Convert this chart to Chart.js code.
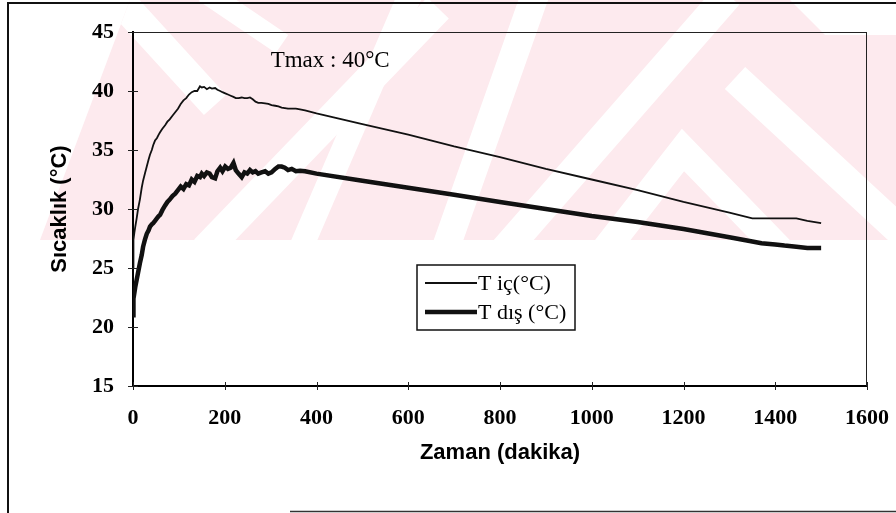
<!DOCTYPE html>
<html>
<head>
<meta charset="utf-8">
<script src="https://cdn.jsdelivr.net/npm/chart.js@4.4.1/dist/chart.umd.min.js"></script>
<style>
  html, body { margin: 0; padding: 0; background: #fff; }
  #wrap { width: 896px; height: 513px; }
</style>
</head>
<body>
<div id="wrap"><canvas id="tempChart" width="896" height="513"></canvas></div>
<script>
// time in minutes
const timeMin = [0, 1, 3, 5, 8, 11, 15, 19, 22, 26, 30, 34, 37, 41, 44, 48, 52, 56, 59, 64,
  70, 75, 80, 86, 92, 98, 104, 110, 116, 122, 128, 134, 140, 146, 150, 155, 161, 167, 172, 179,
  184, 190, 195, 201, 207, 213, 219, 224, 230, 237, 243, 249, 255, 261, 267, 273, 280, 288, 295, 302,
  310, 317, 324, 331, 338, 346, 355, 364, 375, 400, 500, 600, 700, 800, 900, 1000, 1100, 1200, 1300, 1350,
  1370, 1400, 1420, 1446, 1470, 1500];

// inside temperature (thin line)
const tIc = [25.0, 27.4, 28.0, 28.5, 29.2, 30.0, 30.8, 31.8, 32.4, 33.0, 33.6, 34.2, 34.6, 35.0, 35.4, 35.8, 36.0, 36.3, 36.5, 36.8,
  37.1, 37.4, 37.6, 37.9, 38.2, 38.5, 38.9, 39.2, 39.4, 39.7, 39.9, 40.0, 40.0, 40.4, 40.3, 40.35, 40.15, 40.3, 40.2, 40.25,
  40.1, 40.0, 39.9, 39.8, 39.7, 39.6, 39.5, 39.4, 39.4, 39.45, 39.4, 39.4, 39.45, 39.3, 39.1, 39.0, 39.0, 38.95, 38.9, 38.8,
  38.75, 38.7, 38.6, 38.55, 38.5, 38.5, 38.5, 38.45, 38.35, 38.1, 37.2, 36.3, 35.3, 34.4, 33.4, 32.5, 31.6, 30.6, 29.7, 29.2,
  29.2, 29.2, 29.2, 29.2, 29.0, 28.8];

// outside temperature (thick line)
const tDis = [21.0, 22.4, 22.9, 23.4, 24.0, 24.6, 25.4, 26.1, 26.8, 27.4, 27.9, 28.2, 28.5, 28.7, 28.8, 29.0, 29.2, 29.4, 29.5, 29.9,
  30.3, 30.6, 30.8, 31.1, 31.3, 31.6, 31.9, 31.7, 32.1, 32.0, 32.5, 32.3, 32.8, 32.7, 33.0, 32.8, 33.1, 33.0, 32.7, 32.6,
  33.2, 33.5, 33.2, 33.6, 33.4, 33.5, 33.9, 33.3, 33.0, 32.7, 33.1, 33.0, 33.3, 33.1, 33.2, 33.0, 33.1, 33.2, 33.0, 33.1,
  33.4, 33.6, 33.6, 33.5, 33.3, 33.4, 33.2, 33.25, 33.2, 33.0, 32.4, 31.8, 31.2, 30.6, 30.0, 29.4, 28.9, 28.3, 27.6, 27.25,
  27.1, 27.0, 26.9, 26.8, 26.7, 26.7];

const xTickValues = [0, 200, 400, 600, 800, 1000, 1200, 1400, 1600];
const yTickValues = [15, 20, 25, 30, 35, 40, 45];
const seriesLabels = ['T iç(°C)', 'T dış (°C)'];
const xTitle = 'Zaman (dakika)';
const yTitle = 'Sıcaklık (°C)';
const noteText = 'Tmax : 40°C';
const notePos = { x: 300, y: 42 };

const serif = '"Liberation Serif", "Times New Roman", serif';
const sans = '"Liberation Sans", Arial, sans-serif';

// pink thesis watermark behind the upper part of the page
const watermark = {
  id: 'watermark',
  beforeDraw(chart) {
    const c = chart.ctx;
    c.save();
    c.fillStyle = '#fff';
    c.fillRect(0, 0, chart.width, chart.height);
    c.beginPath();
    c.moveTo(130, 0); c.lineTo(790, 0); c.lineTo(825, 35); c.lineTo(896, 35);
    c.lineTo(896, 240); c.lineTo(40, 240); c.closePath();
    c.fillStyle = '#fdeaee';
    c.fill();
    c.clip();
    c.strokeStyle = '#fff';
    c.lineCap = 'butt';
    c.lineJoin = 'miter';
    const bands = [
      [[110, -10], [215, 105], 30],
      [[205, -8], [282, 44], 22],
      [[205, 250], [438, 8], 30],
      [[300, 250], [410, -5], 24],
      [[445, 250], [535, -5], 28],
      [[505, 250], [728, -5], 30],
      [[735, 78], [910, 240], 30],
      [[605, 250], [683, 150], [780, 250], 28]
    ];
    bands.forEach(b => {
      const w = b[b.length - 1];
      const pts = b.slice(0, -1);
      c.lineWidth = w;
      c.beginPath();
      pts.forEach((p, i) => i ? c.lineTo(p[0], p[1]) : c.moveTo(p[0], p[1]));
      c.stroke();
    });
    c.restore();
  }
};

// page frame, plot box, crossing tick marks, note and legend
const extras = {
  id: 'extras',
  afterDraw(chart) {
    const c = chart.ctx;
    const { left, right, top, bottom } = chart.chartArea;
    const xs = chart.scales.x, ys = chart.scales.y;
    c.save();
    c.strokeStyle = '#111';
    c.lineWidth = 2;
    c.beginPath();
    c.moveTo(8, 3); c.lineTo(8, 513);
    c.moveTo(7, 3); c.lineTo(896, 3);
    c.stroke();
    c.lineWidth = 1.5;
    c.strokeStyle = '#333';
    c.beginPath();
    c.moveTo(290, 511.5); c.lineTo(896, 511.5);
    c.stroke();

    c.lineWidth = 1;
    c.strokeStyle = '#222';
    c.beginPath();
    c.moveTo(left, top + 0.5); c.lineTo(right, top + 0.5);
    c.moveTo(right - 0.5, top); c.lineTo(right - 0.5, bottom);
    c.stroke();

    c.beginPath();
    yTickValues.forEach(v => {
      const py = Math.round(ys.getPixelForValue(v)) + 0.5;
      c.moveTo(left - 5, py); c.lineTo(left + 5, py);
    });
    xTickValues.forEach(v => {
      const px = Math.round(xs.getPixelForValue(v)) + 0.5;
      c.moveTo(px, bottom - 4); c.lineTo(px, bottom + 4);
    });
    c.stroke();

    c.fillStyle = '#000';
    c.font = '23px ' + serif;
    c.textAlign = 'left';
    c.textBaseline = 'alphabetic';
    c.fillText(noteText, xs.getPixelForValue(notePos.x), ys.getPixelForValue(notePos.y));

    // legend box
    const lx = 417, ly = 265, lw = 158, lh = 65;
    c.fillStyle = '#fff';
    c.fillRect(lx, ly, lw, lh);
    c.lineWidth = 1.5;
    c.strokeStyle = '#111';
    c.strokeRect(lx, ly, lw, lh);
    chart.data.datasets.forEach((ds, i) => {
      const yy = ly + 18 + i * 29;
      c.lineWidth = ds.borderWidth;
      c.strokeStyle = ds.borderColor;
      c.beginPath();
      c.moveTo(lx + 8, yy); c.lineTo(lx + 60, yy);
      c.stroke();
      c.fillStyle = '#000';
      c.font = '22px ' + serif;
      c.textBaseline = 'middle';
      c.fillText(ds.label, lx + 61, yy + 1);
    });
    c.restore();
  }
};

const ctx = document.getElementById('tempChart').getContext('2d');
const chart = new Chart(ctx, {
  type: 'line',
  data: {
    datasets: [
      {
        label: seriesLabels[0],
        data: timeMin.map((t, i) => ({ x: t, y: tIc[i] })),
        borderColor: '#111',
        borderWidth: 1.8,
        pointRadius: 0,
        tension: 0,
        fill: false
      },
      {
        label: seriesLabels[1],
        data: timeMin.map((t, i) => ({ x: t, y: tDis[i] })),
        borderColor: '#111',
        borderWidth: 4.5,
        pointRadius: 0,
        tension: 0,
        fill: false
      }
    ]
  },
  options: {
    responsive: false,
    animation: false,
    layout: { padding: { left: 0, top: 32, right: 29, bottom: 0 } },
    plugins: {
      legend: { display: false },
      tooltip: { enabled: false }
    },
    scales: {
      x: {
        type: 'linear',
        min: 0,
        max: 1600,
        afterBuildTicks: s => { s.ticks = xTickValues.map(v => ({ value: v })); },
        afterFit: s => { s.height = 127; s.paddingLeft = 0; s.paddingRight = 0; },
        grid: { display: false },
        border: { display: true, color: '#000', width: 2 },
        ticks: { color: '#000', padding: 11, maxRotation: 0, callback: v => String(v), font: { family: serif, size: 22, weight: 'bold' } },
        title: { display: true, text: xTitle, color: '#000', padding: { top: 0, bottom: 47 }, font: { family: sans, size: 22, weight: 'bold' } }
      },
      y: {
        min: 15,
        max: 45,
        afterBuildTicks: s => { s.ticks = yTickValues.map(v => ({ value: v })); },
        afterFit: s => { s.width = 133; s.paddingTop = 0; s.paddingBottom = 0; },
        grid: { display: false },
        border: { display: true, color: '#000', width: 2 },
        ticks: { color: '#000', padding: 11, callback: v => String(v), font: { family: serif, size: 22, weight: 'bold' } },
        title: { display: true, text: yTitle, color: '#000', padding: { top: 47, bottom: 0 }, font: { family: sans, size: 22, weight: 'bold' } }
      }
    }
  },
  plugins: [watermark, extras]
});
</script>
</body>
</html>
